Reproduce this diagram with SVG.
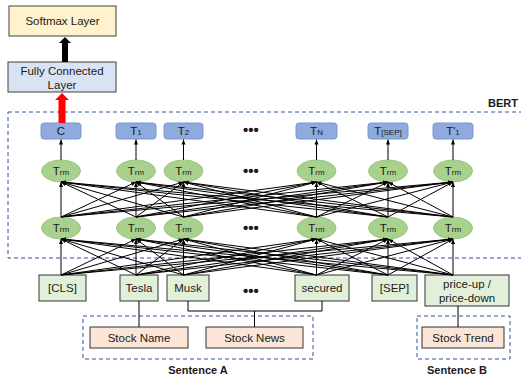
<svg xmlns="http://www.w3.org/2000/svg" width="521" height="381" viewBox="0 0 521 381">
<style>
  text { font-family: "Liberation Sans", "DejaVu Sans", sans-serif; fill: #1a1a1a; }
  .lbl { font-size: 11.5px; text-anchor: middle; }
  .sub { font-size: 8px; }
  .bold { font-weight: bold; font-size: 11px; text-anchor: middle; }
  .dots { font-size: 15px; font-weight: bold; text-anchor: middle; }
  .head { fill: #FFF2CC; stroke: #404040; stroke-width: 1; }
  .fc { fill: #DAE3F3; stroke: #404040; stroke-width: 1; }
  .out { fill: #8FAADC; stroke: #7A97CC; stroke-width: 1; }
  .trm { fill: #A9D18E; stroke: #9CC681; stroke-width: 1; }
  .tok { fill: #E2F0D9; stroke: #333333; stroke-width: 1; }
  .src { fill: #FBE5D6; stroke: #333333; stroke-width: 1; }
  .frame { fill: none; stroke: #2F5597; stroke-width: 1; stroke-dasharray: 4 3; }
  .edge line { stroke: #000; stroke-width: 1; marker-end: url(#ah); }
  .plain { stroke: #000; stroke-width: 1; fill: none; }
</style>
<defs>
  <marker id="ah" viewBox="0 0 10 10" refX="10" refY="5" markerWidth="5" markerHeight="5" markerUnits="userSpaceOnUse" orient="auto">
    <path d="M0,1 L10,5 L0,9z" fill="#000"/>
  </marker>
</defs>

<!-- framing regions -->
<g id="bert-frame">
  <rect class="frame" x="8" y="112" width="520" height="146"/>
  <text class="bold" x="503" y="107">BERT</text>
</g>
<g id="sentence-a-frame">
  <rect class="frame" x="83" y="316" width="230" height="43"/>
  <text class="bold" x="198" y="374">Sentence A</text>
</g>
<g id="sentence-b-frame">
  <rect class="frame" x="417" y="316" width="93" height="43"/>
  <text class="bold" x="457" y="374">Sentence B</text>
</g>

<!-- classification head -->
<g id="softmax">
  <rect class="head" x="9" y="6" width="107" height="30"/>
  <text class="lbl" x="62.5" y="25">Softmax Layer</text>
</g>
<g id="fully-connected">
  <rect class="fc" x="8" y="62" width="108" height="30"/>
  <text class="lbl" x="62" y="75">Fully Connected</text>
  <text class="lbl" x="62" y="89">Layer</text>
</g>

<!-- output tokens -->
<g id="out-c"><rect class="out" x="41" y="123" width="40" height="16" rx="3"/><text class="lbl" x="61" y="135">C</text></g>
<g id="out-t1"><rect class="out" x="116" y="123" width="40" height="16" rx="3"/><text class="lbl" x="136" y="135">T<tspan class="sub">1</tspan></text></g>
<g id="out-t2"><rect class="out" x="164" y="123" width="39" height="16" rx="3"/><text class="lbl" x="183.5" y="135">T<tspan class="sub">2</tspan></text></g>
<g id="out-tn"><rect class="out" x="296" y="123" width="41" height="16" rx="3"/><text class="lbl" x="316.5" y="135">T<tspan class="sub">N</tspan></text></g>
<g id="out-tsep"><rect class="out" x="368" y="123" width="40" height="16" rx="3"/><text class="lbl" x="388" y="135">T<tspan class="sub">[SEP]</tspan></text></g>
<g id="out-t1p"><rect class="out" x="433" y="123" width="40" height="16" rx="3"/><text class="lbl" x="453" y="135">T′<tspan class="sub">1</tspan></text></g>

<!-- transformer blocks, upper row -->
<g id="trm-u1"><ellipse class="trm" cx="61" cy="171" rx="19.5" ry="11"/><text class="lbl" x="61" y="175">T<tspan class="sub">rm</tspan></text></g>
<g id="trm-u2"><ellipse class="trm" cx="136" cy="171" rx="19.5" ry="11"/><text class="lbl" x="136" y="175">T<tspan class="sub">rm</tspan></text></g>
<g id="trm-u3"><ellipse class="trm" cx="183.5" cy="171" rx="19.5" ry="11"/><text class="lbl" x="183.5" y="175">T<tspan class="sub">rm</tspan></text></g>
<g id="trm-u4"><ellipse class="trm" cx="316.5" cy="171" rx="19.5" ry="11"/><text class="lbl" x="316.5" y="175">T<tspan class="sub">rm</tspan></text></g>
<g id="trm-u5"><ellipse class="trm" cx="388" cy="171" rx="19.5" ry="11"/><text class="lbl" x="388" y="175">T<tspan class="sub">rm</tspan></text></g>
<g id="trm-u6"><ellipse class="trm" cx="453" cy="171" rx="19.5" ry="11"/><text class="lbl" x="453" y="175">T<tspan class="sub">rm</tspan></text></g>

<!-- transformer blocks, lower row -->
<g id="trm-l1"><ellipse class="trm" cx="61" cy="228" rx="19.5" ry="11"/><text class="lbl" x="61" y="232">T<tspan class="sub">rm</tspan></text></g>
<g id="trm-l2"><ellipse class="trm" cx="136" cy="228" rx="19.5" ry="11"/><text class="lbl" x="136" y="232">T<tspan class="sub">rm</tspan></text></g>
<g id="trm-l3"><ellipse class="trm" cx="183.5" cy="228" rx="19.5" ry="11"/><text class="lbl" x="183.5" y="232">T<tspan class="sub">rm</tspan></text></g>
<g id="trm-l4"><ellipse class="trm" cx="316.5" cy="228" rx="19.5" ry="11"/><text class="lbl" x="316.5" y="232">T<tspan class="sub">rm</tspan></text></g>
<g id="trm-l5"><ellipse class="trm" cx="388" cy="228" rx="19.5" ry="11"/><text class="lbl" x="388" y="232">T<tspan class="sub">rm</tspan></text></g>
<g id="trm-l6"><ellipse class="trm" cx="453" cy="228" rx="19.5" ry="11"/><text class="lbl" x="453" y="232">T<tspan class="sub">rm</tspan></text></g>

<!-- input tokens -->
<g id="tok-cls"><rect class="tok" x="39" y="275" width="47" height="26"/><text class="lbl" x="62.5" y="292">[CLS]</text></g>
<g id="tok-tesla"><rect class="tok" x="120" y="275" width="38" height="26"/><text class="lbl" x="139" y="292">Tesla</text></g>
<g id="tok-musk"><rect class="tok" x="167" y="275" width="42" height="26"/><text class="lbl" x="188" y="292">Musk</text></g>
<g id="tok-secured"><rect class="tok" x="295" y="275" width="54" height="26"/><text class="lbl" x="322" y="292">secured</text></g>
<g id="tok-sep"><rect class="tok" x="372" y="275" width="45" height="26"/><text class="lbl" x="394.5" y="292">[SEP]</text></g>
<g id="tok-price"><rect class="tok" x="425" y="275" width="84" height="31"/><text class="lbl" x="467" y="288">price-up /</text><text class="lbl" x="467" y="302">price-down</text></g>

<!-- input sources -->
<g id="src-name"><rect class="src" x="90" y="327" width="98" height="21"/><text class="lbl" x="139" y="341.5">Stock Name</text></g>
<g id="src-news"><rect class="src" x="206" y="327" width="97" height="21"/><text class="lbl" x="254.5" y="341.5">Stock News</text></g>
<g id="src-trend"><rect class="src" x="422" y="327" width="82" height="21"/><text class="lbl" x="463" y="341.5">Stock Trend</text></g>

<!-- ellipsis columns -->
<g id="ellipses">
  <text class="dots" x="251" y="135">•••</text>
  <text class="dots" x="251" y="176">•••</text>
  <text class="dots" x="251" y="233">•••</text>
  <text class="dots" x="251" y="296">•••</text>
</g>

<g id="connectors">
  <!-- head arrows -->
  <path d="M58.5,123 V100 H55 L62,93 L69,100 H65.5 V123 Z" fill="#FF0000"/>
  <path d="M62,62 V43 H59 L65,37 L71,43 H68 V62 Z" fill="#000"/>

  <!-- upper transformer to outputs -->
  <g class="edge">
    <line x1="61" y1="160" x2="61" y2="139.5"/>
    <line x1="136" y1="160" x2="136" y2="139.5"/>
    <line x1="183.5" y1="160" x2="183.5" y2="139.5"/>
    <line x1="316.5" y1="160" x2="316.5" y2="139.5"/>
    <line x1="388" y1="160" x2="388" y2="139.5"/>
    <line x1="453" y1="160" x2="453" y2="139.5"/>
  </g>

  <!-- lower row to upper row, fully connected -->
  <g class="edge">
    <line x1="61" y1="217" x2="61" y2="182"/><line x1="61" y1="217" x2="136" y2="182"/><line x1="61" y1="217" x2="183.5" y2="182"/><line x1="61" y1="217" x2="316.5" y2="182"/><line x1="61" y1="217" x2="388" y2="182"/><line x1="61" y1="217" x2="453" y2="182"/>
    <line x1="136" y1="217" x2="61" y2="182"/><line x1="136" y1="217" x2="136" y2="182"/><line x1="136" y1="217" x2="183.5" y2="182"/><line x1="136" y1="217" x2="316.5" y2="182"/><line x1="136" y1="217" x2="388" y2="182"/><line x1="136" y1="217" x2="453" y2="182"/>
    <line x1="183.5" y1="217" x2="61" y2="182"/><line x1="183.5" y1="217" x2="136" y2="182"/><line x1="183.5" y1="217" x2="183.5" y2="182"/><line x1="183.5" y1="217" x2="316.5" y2="182"/><line x1="183.5" y1="217" x2="388" y2="182"/><line x1="183.5" y1="217" x2="453" y2="182"/>
    <line x1="316.5" y1="217" x2="61" y2="182"/><line x1="316.5" y1="217" x2="136" y2="182"/><line x1="316.5" y1="217" x2="183.5" y2="182"/><line x1="316.5" y1="217" x2="316.5" y2="182"/><line x1="316.5" y1="217" x2="388" y2="182"/><line x1="316.5" y1="217" x2="453" y2="182"/>
    <line x1="388" y1="217" x2="61" y2="182"/><line x1="388" y1="217" x2="136" y2="182"/><line x1="388" y1="217" x2="183.5" y2="182"/><line x1="388" y1="217" x2="316.5" y2="182"/><line x1="388" y1="217" x2="388" y2="182"/><line x1="388" y1="217" x2="453" y2="182"/>
    <line x1="453" y1="217" x2="61" y2="182"/><line x1="453" y1="217" x2="136" y2="182"/><line x1="453" y1="217" x2="183.5" y2="182"/><line x1="453" y1="217" x2="316.5" y2="182"/><line x1="453" y1="217" x2="388" y2="182"/><line x1="453" y1="217" x2="453" y2="182"/>
  </g>

  <!-- input tokens to lower row, fully connected -->
  <g class="edge">
    <line x1="61" y1="275" x2="61" y2="239"/><line x1="61" y1="275" x2="136" y2="239"/><line x1="61" y1="275" x2="183.5" y2="239"/><line x1="61" y1="275" x2="316.5" y2="239"/><line x1="61" y1="275" x2="388" y2="239"/><line x1="61" y1="275" x2="453" y2="239"/>
    <line x1="136" y1="275" x2="61" y2="239"/><line x1="136" y1="275" x2="136" y2="239"/><line x1="136" y1="275" x2="183.5" y2="239"/><line x1="136" y1="275" x2="316.5" y2="239"/><line x1="136" y1="275" x2="388" y2="239"/><line x1="136" y1="275" x2="453" y2="239"/>
    <line x1="183.5" y1="275" x2="61" y2="239"/><line x1="183.5" y1="275" x2="136" y2="239"/><line x1="183.5" y1="275" x2="183.5" y2="239"/><line x1="183.5" y1="275" x2="316.5" y2="239"/><line x1="183.5" y1="275" x2="388" y2="239"/><line x1="183.5" y1="275" x2="453" y2="239"/>
    <line x1="316.5" y1="275" x2="61" y2="239"/><line x1="316.5" y1="275" x2="136" y2="239"/><line x1="316.5" y1="275" x2="183.5" y2="239"/><line x1="316.5" y1="275" x2="316.5" y2="239"/><line x1="316.5" y1="275" x2="388" y2="239"/><line x1="316.5" y1="275" x2="453" y2="239"/>
    <line x1="388" y1="275" x2="61" y2="239"/><line x1="388" y1="275" x2="136" y2="239"/><line x1="388" y1="275" x2="183.5" y2="239"/><line x1="388" y1="275" x2="316.5" y2="239"/><line x1="388" y1="275" x2="388" y2="239"/><line x1="388" y1="275" x2="453" y2="239"/>
    <line x1="453" y1="275" x2="61" y2="239"/><line x1="453" y1="275" x2="136" y2="239"/><line x1="453" y1="275" x2="183.5" y2="239"/><line x1="453" y1="275" x2="316.5" y2="239"/><line x1="453" y1="275" x2="388" y2="239"/><line x1="453" y1="275" x2="453" y2="239"/>
  </g>

  <!-- sources to tokens -->
  <line class="plain" x1="139" y1="301" x2="139" y2="327"/>
  <polyline class="plain" points="188,301 188,311 322,311 322,301"/>
  <line class="plain" x1="254.5" y1="311" x2="254.5" y2="327"/>
  <line class="plain" x1="458" y1="306" x2="458" y2="327"/>
</g>
</svg>
